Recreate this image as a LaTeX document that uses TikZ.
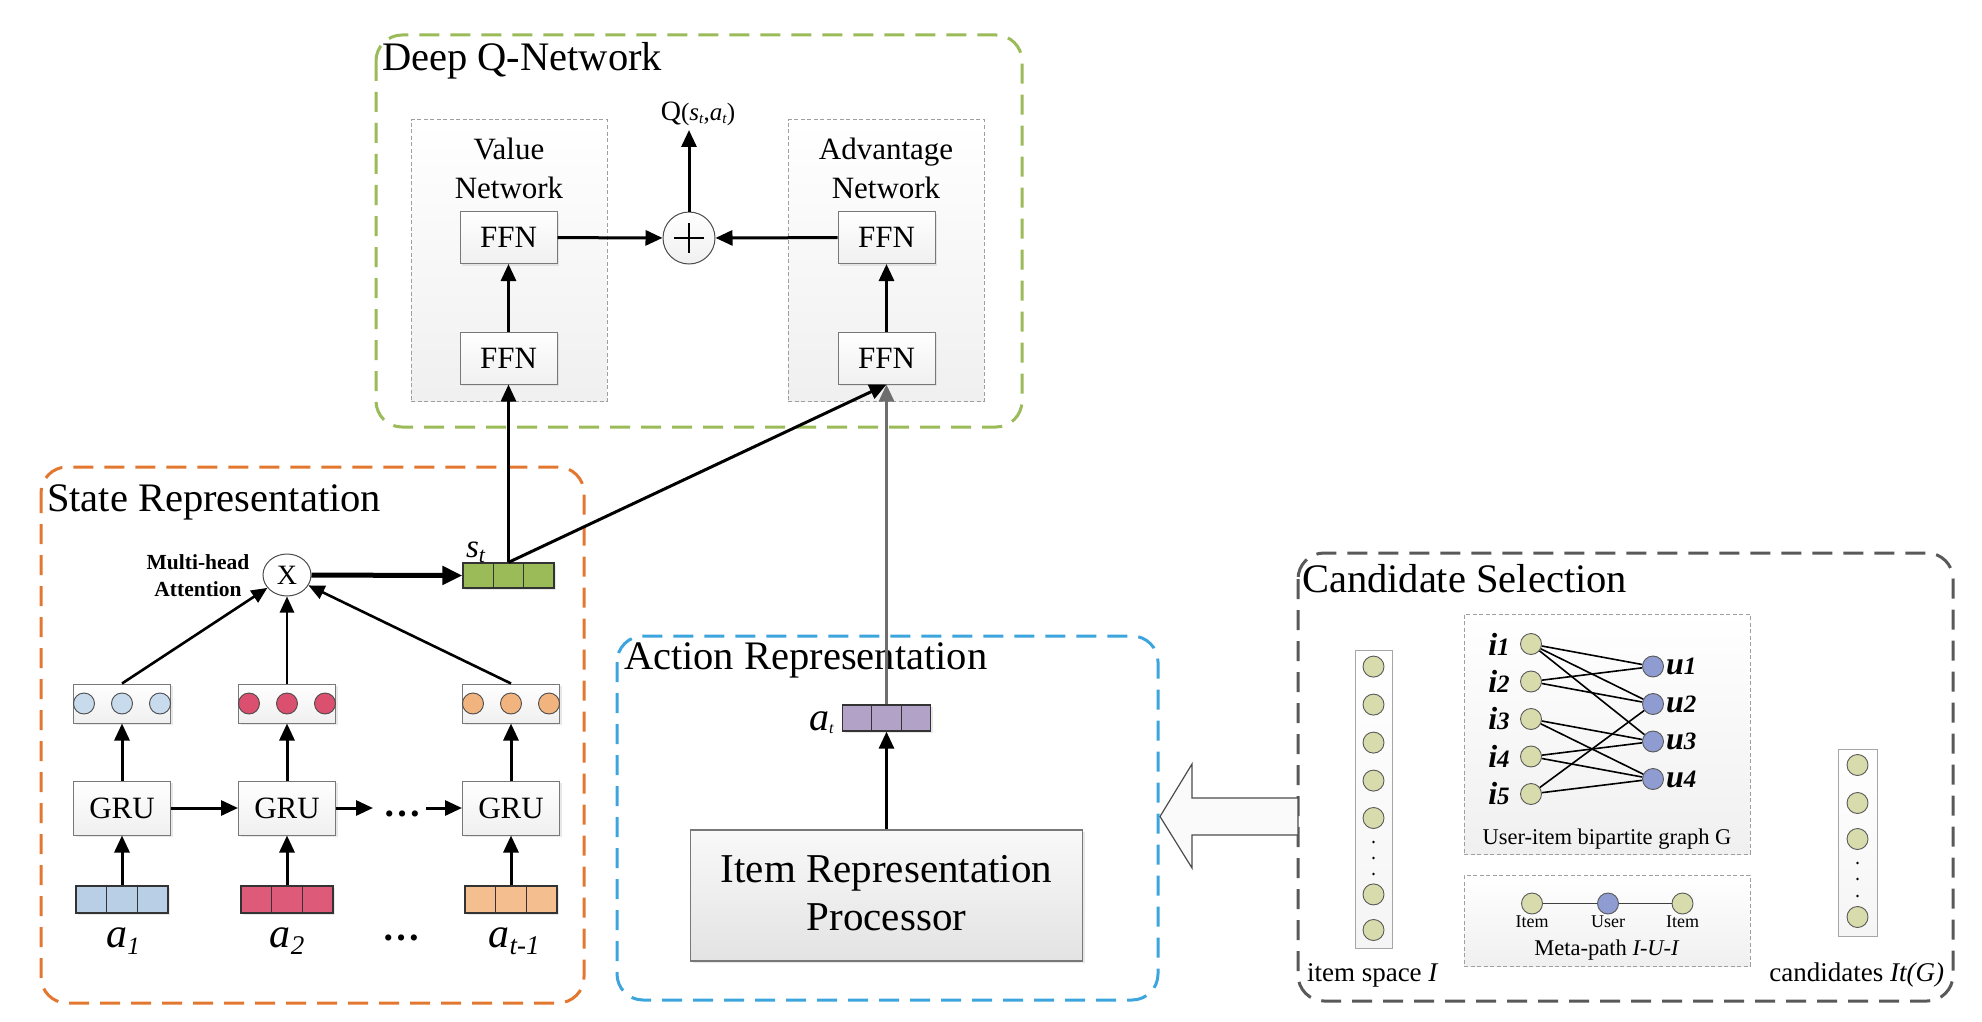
\documentclass[tikz,border=0pt]{standalone}
\usepackage{fontspec}
\setmainfont{Liberation Serif}
\usetikzlibrary{arrows.meta,shadows,shapes.geometric}
\definecolor{dqncol}{RGB}{155,187,89}
\definecolor{statecol}{RGB}{226,119,47}
\definecolor{actcol}{RGB}{61,165,222}
\definecolor{candcol}{RGB}{89,89,89}
\definecolor{stc}{RGB}{155,187,89}
\definecolor{inA}{RGB}{185,207,229}
\definecolor{dotA}{RGB}{200,219,236}
\definecolor{inB}{RGB}{221,90,120}
\definecolor{dotB}{RGB}{218,80,110}
\definecolor{inC}{RGB}{245,190,142}
\definecolor{dotC}{RGB}{242,180,126}
\definecolor{atc}{RGB}{178,162,199}
\definecolor{itemc}{RGB}{216,220,172}
\definecolor{userc}{RGB}{143,156,210}
\definecolor{bord}{RGB}{120,120,120}
\definecolor{gline}{RGB}{110,110,110}
\newcommand{\myfs}[1]{\fontsize{#1}{#1}\selectfont}
\newcommand{\mysub}[2]{\raisebox{-#1pt}{#2}}
\begin{document}
\begin{tikzpicture}[x=1pt,y=-1pt,
  txt/.style={inner sep=0pt,outer sep=0pt},
  outerbox/.style={line width=3pt,dash pattern=on 20pt off 11pt,rounded corners=26pt},
  inbox/.style={draw=gray!75,dash pattern=on 4pt off 2.5pt,line width=1pt,top color=white,bottom color=gray!12,inner sep=0pt},
  blk/.style={draw=bord,line width=1pt,top color=white,bottom color=gray!12,inner sep=0pt,drop shadow={shadow xshift=2pt,shadow yshift=-2pt,fill=black!18}},
  bar/.style={draw=gray!40!black,line width=1.3pt,inner sep=0pt,minimum width=92,minimum height=27,drop shadow={shadow xshift=2pt,shadow yshift=-2pt,fill=black!18}},
  arr/.style={line width=3pt,-{Triangle[length=17pt,width=15pt]}},
  arrthin/.style={line width=2.6pt,-{Triangle[length=16pt,width=14pt]}},
  arrthick/.style={line width=5pt,-{Triangle[length=20pt,width=18pt]}},
  itemnode/.style={circle,draw=gray!70!black,fill=itemc,minimum size=21,inner sep=0pt,line width=0.9pt},
  usernode/.style={circle,draw=gray!70!black,fill=userc,minimum size=21,inner sep=0pt,line width=0.9pt},
  edge/.style={line width=1.6pt,black}
]
\useasboundingbox (0,0) rectangle (1982,1022);

% ===== outer boxes =====
\draw[outerbox,draw=dqncol] (376,35) rectangle (1022,427);
\draw[outerbox,draw=statecol] (41,467) rectangle (584,1003);
\draw[outerbox,draw=actcol] (617,636) rectangle (1158,1000);
\draw[outerbox,draw=candcol] (1298,553) rectangle (1953,1001);

\node[txt,anchor=base west,font=\myfs{40.5}] (tdqn) at (382,71) {Deep Q-Network};
\node[txt,anchor=base west,font=\myfs{40.5}] (tstate) at (47,511) {State Representation};
\node[txt,anchor=base west,font=\myfs{40.5}] (tact) at (624,669) {Action Representation};
\node[txt,anchor=base west,font=\myfs{40.5}] (tcand) at (1302,592) {Candidate Selection};

% ===== Deep Q-Network =====
\node[inbox,minimum width=196,minimum height=281] (vbox) at (509,260.5) {};
\node[inbox,minimum width=196,minimum height=281] (abox) at (886,260.5) {};
\node[txt,anchor=base,font=\myfs{31}] (vl1) at (509,160) {Value};
\node[txt,anchor=base,font=\myfs{31}] (vl2) at (509,198) {Network};
\node[txt,anchor=base,font=\myfs{31}] (al1) at (886,160) {Advantage};
\node[txt,anchor=base,font=\myfs{31}] (al2) at (886,198) {Network};

\node[blk,minimum width=97,minimum height=52,font=\myfs{31}] (fvt) at (508.5,237.5) {FFN};
\node[blk,minimum width=97,minimum height=52,font=\myfs{31}] (fvb) at (508.5,358) {FFN};
\node[blk,minimum width=97,minimum height=52,font=\myfs{31}] (fat) at (886.5,237.5) {FFN};
\node[blk,minimum width=97,minimum height=52,font=\myfs{31}] (fab) at (886.5,358) {FFN};

\node[circle,draw=gray!60!black,line width=1pt,top color=white,bottom color=gray!12,minimum size=52,inner sep=0pt] (plus) at (689,238) {};
\draw[line width=1.6pt] (plus.center) ++(-15,0) -- ++(30,0);
\draw[line width=1.6pt] (plus.center) ++(0,-15) -- ++(0,30);

\node[txt,anchor=base,font=\myfs{28}] (qlab) at (698,121)
  {Q{\myfs{25}(\textit{s}\mysub{3}{\myfs{15}\textit{t}},\textit{a}\mysub{3}{\myfs{15}\textit{t}})}};
\coordinate (qpt) at (689,130);

\draw[arr] (fvb) -- (fvt);
\draw[arr] (fab) -- (fat);
\draw[arr] (fvt) -- (plus);
\draw[arr] (fat) -- (plus);
\draw[arr] (plus) -- (qpt);

% ===== State Representation =====
\node[txt,anchor=base,font=\bfseries\myfs{21.5}] (mh1) at (198,569) {Multi-head};
\node[txt,anchor=base,font=\bfseries\myfs{21.5}] (mh2) at (198,596) {Attention};
\node[ellipse,draw=gray!60!black,line width=1pt,fill=white,minimum width=48,minimum height=42,inner sep=0pt,font=\myfs{28}] (att) at (287,575) {X};

\node[bar,fill=stc,minimum width=91,minimum height=25] (st) at (508.5,575.5) {};
\foreach \dx in {-15.17,15.17} \draw[gray!40!black,line width=1.3pt] ([xshift=\dx pt]st.north) -- ([xshift=\dx pt]st.south);
\node[txt,anchor=base west,font=\myfs{33}] (stlab) at (466,557) {\textit{s}\mysub{5}{\myfs{22}\textit{t}}};

% hidden boxes
\node[blk,minimum width=97,minimum height=39] (h1) at (122,703.5) {};
\node[blk,minimum width=97,minimum height=39] (h2) at (287,703.5) {};
\node[blk,minimum width=97,minimum height=39] (h3) at (511,703.5) {};
\foreach \dx in {-38,0,38} {
  \draw[fill=dotA,draw=gray!60!black,line width=0.9pt] ([xshift=\dx pt]h1.center) circle (10.5pt);
  \draw[fill=dotB,draw=gray!60!black,line width=0.9pt] ([xshift=\dx pt]h2.center) circle (10.5pt);
  \draw[fill=dotC,draw=gray!60!black,line width=0.9pt] ([xshift=\dx pt]h3.center) circle (10.5pt);
}
% GRU
\node[blk,minimum width=97,minimum height=54,font=\myfs{31}] (g1) at (122,808) {GRU};
\node[blk,minimum width=97,minimum height=54,font=\myfs{31}] (g2) at (287,808) {GRU};
\node[blk,minimum width=97,minimum height=54,font=\myfs{31}] (g3) at (511,808) {GRU};
% inputs
\node[bar,fill=inA] (in1) at (122,899.5) {};
\node[bar,fill=inB] (in2) at (287,899.5) {};
\node[bar,fill=inC] (in3) at (511,899.5) {};
\foreach \n in {in1,in2,in3}
  \foreach \dx in {-15.33,15.33} \draw[gray!40!black,line width=1.3pt] ([xshift=\dx pt]\n.north) -- ([xshift=\dx pt]\n.south);

\node[txt,anchor=base,font=\myfs{42}] (la1) at (123,947) {\textit{a}\mysub{7}{\myfs{25}\textit{1}}};
\node[txt,anchor=base,font=\myfs{42}] (la2) at (287,947) {\textit{a}\mysub{7}{\myfs{27}\textit{2}}};
\node[txt,anchor=base,font=\myfs{42}] (la3) at (514,947) {\textit{a}\mysub{7}{\myfs{27}\textit{t-1}}};
\node[txt,anchor=base,font=\bfseries\myfs{38}] (ldots) at (401,940) {…};
\node[txt,anchor=base,font=\bfseries\myfs{38}] (gdots) at (402,816) {…};
\coordinate (d1) at (373,808);
\coordinate (d2) at (426,808);

\foreach \k in {1,2,3} {
  \draw[arr] (in\k) -- (g\k);
  \draw[arr] (g\k) -- (h\k);
}
\draw[arr] (g1) -- (g2);
\draw[arr] (g2) -- (d1);
\draw[arr] (d2) -- (g3);
\draw[arrthin] (h1.north) -- (att);
\draw[arrthin] (h2.north) -- (att);
\draw[arrthin] (h3.north) -- (att);
\draw[arrthick] (att) -- (st.west);

% s_t to DQN
\draw[arr] (st.north) -- (fvb.south);
\draw[arr] (st.north) -- (fab.south);

% ===== Action Representation =====
\node[bar,fill=atc,minimum width=88,minimum height=26] (at) at (886.5,718) {};
\foreach \dx in {-14.67,14.67} \draw[gray!40!black,line width=1.3pt] ([xshift=\dx pt]at.north) -- ([xshift=\dx pt]at.south);
\node[txt,anchor=base east,font=\myfs{40}] (atlab) at (834,730) {\textit{a}\mysub{3}{\myfs{16}\textit{t}}};
\node[draw=bord,line width=1.2pt,top color=gray!5,bottom color=gray!22,minimum width=392,minimum height=131,inner sep=0pt,
  drop shadow={shadow xshift=2pt,shadow yshift=-2pt,fill=black!18}] (proc) at (886.5,895.5) {};
\node[txt,anchor=base,font=\myfs{41}] (pl1) at (886.5,882) {Item Representation};
\node[txt,anchor=base,font=\myfs{41}] (pl2) at (886.5,930) {Processor};
\draw[arr] (proc.north) -- (at.south);
\draw[arr,color=gline] (at.north) -- (fab.south);

% ===== hollow arrow =====
\draw[draw=gray!60!black,line width=1.2pt,fill=gray!4,line join=miter]
  (1298,798) -- (1192,798) -- (1192,764) -- (1160,816.5) -- (1192,868) -- (1192,835) -- (1298,835) -- cycle;

% ===== Candidate Selection =====
\node[draw=gray!70,line width=1pt,top color=white,bottom color=gray!8,minimum width=37,minimum height=298,inner sep=0pt] (ispace) at (1373.5,799) {};
\foreach \yy in {666.6,704.6,742.6,780.6,818} \node[itemnode] at (1373.5,\yy) {};
\foreach \yy in {894.4,930} \node[itemnode] at (1373.5,\yy) {};
\foreach \yy in {842,858,874} \fill[black] (1373.5,\yy) circle (1.3pt);

\node[draw=gray!70,line width=1pt,top color=white,bottom color=gray!8,minimum width=39,minimum height=187,inner sep=0pt] (cands) at (1857.5,842.5) {};
\foreach \yy in {765,803,839,917} \node[itemnode] at (1857.5,\yy) {};
\foreach \yy in {863,879,896} \fill[black] (1857.5,\yy) circle (1.3pt);

\node[txt,anchor=base west,font=\myfs{27}] (islab) at (1307,981) {item space \textit{I}};
\node[txt,anchor=base east,font=\myfs{27}] (cdlab) at (1944,981) {candidates \textit{It(G)}};

\node[inbox,minimum width=286,minimum height=240] (bip) at (1607,734) {};
\node[inbox,minimum width=286,minimum height=91] (meta) at (1607,920.5) {};

\foreach \k/\yy in {1/644,2/681.5,3/719,4/756.5,5/794} {
  \node[itemnode] (i\k) at (1531,\yy) {};
  \node[txt,font=\bfseries\itshape\myfs{32}] (il\k) at (1499,\yy) {i\myfs{25}\k};
}
\foreach \k/\yy in {1/666.5,2/704,3/741.5,4/779} {
  \node[usernode] (u\k) at (1653,\yy) {};
  \node[txt,anchor=west,font=\bfseries\itshape\myfs{32}] (ul\k) at (1666,\yy) {u\myfs{25}\k};
}
\foreach \a/\b in {1/1,1/2,1/3,2/1,2/2,3/3,3/4,4/3,4/4,5/2,5/4}
  \draw[edge] (i\a) -- (u\b);
\node[txt,anchor=base,font=\myfs{22.5}] (biplab) at (1607,844) {User-item bipartite graph G};

\node[itemnode] (m1) at (1532,903.5) {};
\node[usernode] (m2) at (1608,903.5) {};
\node[itemnode] (m3) at (1682.5,903.5) {};
\draw[line width=1.5pt,gray!50!black] (m1) -- (m2);
\draw[line width=1.5pt,gray!50!black] (m2) -- (m3);
\node[txt,anchor=base,font=\myfs{18}] (ml1) at (1532,927) {Item};
\node[txt,anchor=base,font=\myfs{18}] (ml2) at (1608,927) {User};
\node[txt,anchor=base,font=\myfs{18}] (ml3) at (1682.5,927) {Item};
\node[txt,anchor=base,font=\myfs{22.5}] (metalab) at (1607,955) {Meta-path \textit{I-U-I}};
\end{tikzpicture}
\end{document}
